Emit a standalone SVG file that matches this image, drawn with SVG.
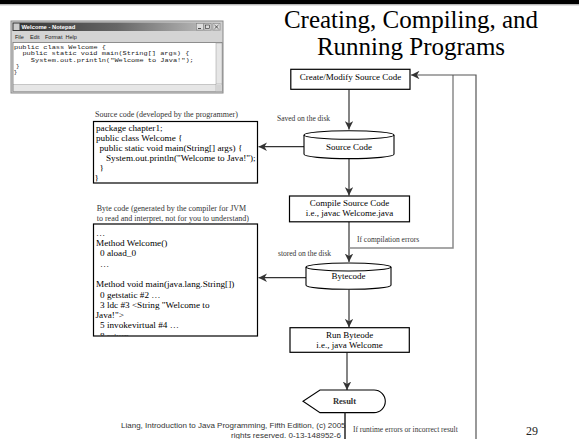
<svg xmlns="http://www.w3.org/2000/svg" width="579" height="439" viewBox="0 0 579 439">
<defs>
<style>
.box{fill:#fff;stroke:#000;stroke-width:1.2;}
.lbl{font-family:"Liberation Serif","Times New Roman",serif;font-size:7.5px;fill:#333;}
.cap{font-family:"Liberation Serif","Times New Roman",serif;font-size:8px;fill:#333;}
.node{font-family:"Liberation Serif","Times New Roman",serif;font-size:9px;fill:#000;text-anchor:middle;}
.code{font-family:"Liberation Serif","Times New Roman",serif;font-size:9.2px;fill:#000;}
.conn{fill:none;stroke:#333;stroke-width:1.2;}
.back{fill:none;stroke:#8a8a8a;stroke-width:1.5;}
.run{fill:none;stroke:#555;stroke-width:1.2;}
.mono{font-family:"Liberation Mono","Courier New",monospace;font-size:5.6px;fill:#222;}
.menu{font-family:"Liberation Sans",Arial,sans-serif;font-size:5.5px;fill:#222;}
.foot{font-family:"Liberation Sans",Arial,sans-serif;font-size:8px;fill:#333;}
.title{font-family:"Liberation Serif","Times New Roman",serif;font-size:25px;fill:#000;text-anchor:middle;}
</style>
<marker id="ah" viewBox="0 0 10 10" refX="10" refY="5" markerWidth="8.5" markerHeight="8.5" markerUnits="userSpaceOnUse" orient="auto"><path d="M0,0 L10,5 L0,10 L3,5 Z" fill="#333"/></marker>
<clipPath id="bcclip"><rect x="94" y="225" width="163" height="110.5"/></clipPath>
<linearGradient id="tb" x1="0" x2="1" y1="0" y2="0"><stop offset="0" stop-color="#333"/><stop offset="0.5" stop-color="#666"/><stop offset="1" stop-color="#c8c8c8"/></linearGradient>
</defs>

<rect x="0" y="0" width="579" height="4" fill="#000"/>
<line x1="0" y1="4.8" x2="579" y2="4.8" stroke="#999" stroke-width="1"/>

<g id="title">
<text class="title" x="411" y="28">Creating, Compiling, and</text>
<text class="title" x="411" y="55">Running Programs</text>
</g>

<g id="notepad">
<rect x="11" y="21" width="212" height="72" fill="#d4d4d4" stroke="#888" stroke-width="1"/>
<rect x="12.5" y="22.5" width="209" height="8.5" fill="url(#tb)"/>
<rect x="13.5" y="23.5" width="6" height="6.5" fill="#ccc"/>
<text x="21.5" y="29" font-family="'Liberation Sans',Arial,sans-serif" font-size="5.8" font-weight="bold" fill="#fff">Welcome - Notepad</text>
<rect x="196.5" y="23.5" width="7" height="6.5" fill="#ddd" stroke="#777" stroke-width="0.5"/>
<rect x="204" y="23.5" width="7" height="6.5" fill="#ddd" stroke="#777" stroke-width="0.5"/>
<rect x="213" y="23.5" width="7" height="6.5" fill="#ddd" stroke="#777" stroke-width="0.5"/>
<line x1="198" y1="28.5" x2="201" y2="28.5" stroke="#222" stroke-width="0.8"/>
<rect x="205.5" y="25" width="4" height="3.5" fill="none" stroke="#222" stroke-width="0.6"/>
<path d="M214.5,25 L218.5,28.8 M218.5,25 L214.5,28.8" stroke="#222" stroke-width="0.7"/>
<text class="menu" x="15" y="39">File</text>
<text class="menu" x="30" y="39">Edit</text>
<text class="menu" x="45" y="39">Format</text>
<text class="menu" x="65.5" y="39">Help</text>
<rect x="13" y="42.5" width="209" height="49" fill="#fff" stroke="#777" stroke-width="0.8"/>
<rect x="216" y="43" width="6" height="41" fill="#e6e6e6" stroke="#999" stroke-width="0.5"/>
<rect x="13.5" y="84.5" width="202.5" height="7" fill="#e6e6e6" stroke="#999" stroke-width="0.5"/>
<rect x="216" y="84.5" width="6" height="7" fill="#d4d4d4"/>
<text class="mono" x="14" y="49.2" textLength="92" lengthAdjust="spacingAndGlyphs">public class Welcome {</text>
<text class="mono" x="22.4" y="55.4" textLength="167" lengthAdjust="spacingAndGlyphs">public static void main(String[] args) {</text>
<text class="mono" x="30.8" y="61.6" textLength="163" lengthAdjust="spacingAndGlyphs">System.out.println("Welcome to Java!");</text>
<text class="mono" x="16" y="67.8">}</text>
<text class="mono" x="13.8" y="74">}</text>
</g>

<g id="source-listing">
<text class="cap" x="95" y="116.5">Source code (developed by the programmer)</text>
<rect class="box" x="93.5" y="121.5" width="164" height="61.5"/>
<text class="code" x="96" y="130.5">package chapter1;</text>
<text class="code" x="96" y="140.5">public class Welcome {</text>
<text class="code" x="99.5" y="150.5">public static void main(String[] args) {</text>
<text class="code" x="106" y="160.5">System.out.println("Welcome to Java!");</text>
<text class="code" x="99.5" y="170.5">}</text>
<text class="code" x="94.5" y="180.5">}</text>
</g>

<g id="bytecode-listing">
<text class="cap" x="96.7" y="211">Byte code (generated by the compiler for JVM</text>
<text class="cap" x="96.7" y="221">to read and interpret, not for you to understand)</text>
<rect class="box" x="93.5" y="224" width="164" height="112"/>
<g clip-path="url(#bcclip)">
<text class="code" x="96" y="235.7">…</text>
<text class="code" x="96" y="246">Method Welcome()</text>
<text class="code" x="100" y="256.3">0 aload_0</text>
<text class="code" x="100" y="266.6">…</text>
<text class="code" x="96" y="287.2">Method void main(java.lang.String[])</text>
<text class="code" x="100" y="297.5">0 getstatic #2 …</text>
<text class="code" x="100" y="307.8">3 ldc #3 &lt;String "Welcome to</text>
<text class="code" x="95.5" y="318.1">Java!"&gt;</text>
<text class="code" x="100" y="328.4">5 invokevirtual #4 …</text>
<text class="code" x="100" y="338.7">8 return</text>
</g>
</g>

<g id="connectors">
<line class="conn" x1="349" y1="89.5" x2="349" y2="129.5" marker-end="url(#ah)"/>
<line class="conn" x1="304" y1="146.7" x2="258.5" y2="146.7" marker-end="url(#ah)"/>
<line class="conn" x1="349" y1="158.5" x2="349" y2="195.5" marker-end="url(#ah)"/>
<line class="conn" x1="349" y1="222" x2="349" y2="262" marker-end="url(#ah)"/>
<line class="conn" x1="306" y1="277.7" x2="258.5" y2="277.7" marker-end="url(#ah)"/>
<line class="conn" x1="349" y1="289.5" x2="349" y2="327.3" marker-end="url(#ah)"/>
<line class="conn" x1="347" y1="352.5" x2="347" y2="390" marker-end="url(#ah)"/>
<path class="back" d="M349,248 H453 V75"/>
<path class="run" d="M345,412.5 V460 H476 V75 H411" marker-end="url(#ah)"/>
</g>

<g id="create">
<rect class="box" x="290.8" y="69.3" width="119.2" height="20"/>
<text class="node" x="350.5" y="79.5">Create/Modify Source Code</text>
</g>

<g id="source-code">
<path d="M304,135 A45,4.3 0 0 1 394,135 V154.3 A45,4.3 0 0 1 304,154.3 Z" fill="#fff" stroke="#000" stroke-width="1.1"/>
<path d="M304,135 A45,4.3 0 0 0 394,135" fill="none" stroke="#000" stroke-width="1.1"/>
<text class="node" x="349" y="149.8">Source Code</text>
<text class="lbl" x="277" y="121">Saved on the disk</text>
</g>

<g id="compile">
<rect class="box" x="289.5" y="196" width="120" height="25.8"/>
<text class="node" x="349.5" y="205.5">Compile Source Code</text>
<text class="node" x="349.5" y="215.5">i.e., javac Welcome.java</text>
<text class="lbl" x="357" y="242">If compilation errors</text>
</g>

<g id="bytecode">
<path d="M306,267 A42.5,4 0 0 1 391,267 V285.3 A42.5,4 0 0 1 306,285.3 Z" fill="#fff" stroke="#000" stroke-width="1.1"/>
<path d="M306,267 A42.5,4 0 0 0 391,267" fill="none" stroke="#000" stroke-width="1.1"/>
<text class="node" x="348.5" y="279.2">Bytecode</text>
<text class="lbl" x="278" y="256">stored on the disk</text>
</g>

<g id="run">
<rect class="box" x="290" y="327.7" width="119.3" height="24.6"/>
<text class="node" x="349.5" y="337.6">Run Byteode</text>
<text class="node" x="349.5" y="347.6">i.e., java Welcome</text>
</g>

<g id="footer">
<text class="foot" x="121" y="428">Liang, Introduction to Java Programming, Fifth Edition, (c) 2005</text>
<text class="foot" x="286" y="437.5" text-anchor="middle">rights reserved. 0-13-148952-6</text>
<text x="532" y="435" font-family="'Liberation Serif','Times New Roman',serif" font-size="12" fill="#222" text-anchor="middle">29</text>
</g>

<g id="result">
<path d="M320,390 H374 A11.3,11.3 0 0 1 374,412.6 H320 L303,401.3 Z" fill="#fff" stroke="#000" stroke-width="1.1"/>
<text x="344.5" y="404.3" font-family="'Liberation Serif','Times New Roman',serif" font-size="8.5" fill="#333" text-anchor="middle" font-weight="bold">Result</text>
</g>

<line x1="345" y1="412.5" x2="345" y2="439" stroke="#333" stroke-width="1.2"/>
<g id="runtime-label">
<rect x="350.5" y="423.5" width="115" height="16" fill="#fff"/>
<text class="lbl" x="353" y="432">If runtime errors or incorrect result</text>
</g>
</svg>
